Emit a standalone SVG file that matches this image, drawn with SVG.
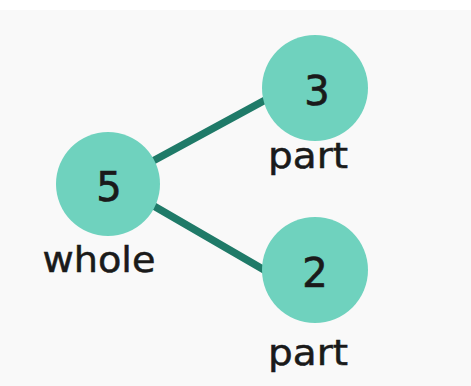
<svg xmlns="http://www.w3.org/2000/svg" width="471" height="386" viewBox="0 0 471 386">
<style>
.node{fill:#6fd2be;}
.num{font-family:"DejaVu Sans",sans-serif;font-size:40px;fill:#1a1a1a;stroke:#1a1a1a;stroke-width:0.7;text-anchor:middle;}
.lbl{font-family:"DejaVu Sans",sans-serif;font-size:35px;fill:#1a1a1a;stroke:#1a1a1a;stroke-width:0.5;text-anchor:middle;}
.edge{stroke:#1f7a68;stroke-width:7.5;stroke-linecap:round;fill:none;}
</style>
<rect width="471" height="386" fill="#ffffff"/>
<rect x="0" y="10" width="471" height="376" fill="#f9f9f9"/>
<g id="connectors">
<line class="edge" x1="140" y1="168" x2="280" y2="92"/>
<line class="edge" x1="140" y1="198" x2="285" y2="282"/>
</g>
<g id="node-whole">
<circle class="node" cx="108" cy="184" r="52"/>
<text class="num" x="109" y="201">5</text>
<text class="lbl" x="99" y="272" textLength="113" lengthAdjust="spacingAndGlyphs">whole</text>
</g>
<g id="node-part1">
<circle class="node" cx="315" cy="88" r="53"/>
<text class="num" x="317" y="105">3</text>
<text class="lbl" x="308" y="168" textLength="80" lengthAdjust="spacingAndGlyphs">part</text>
</g>
<g id="node-part2">
<circle class="node" cx="315" cy="270" r="53"/>
<text class="num" x="315" y="287">2</text>
<text class="lbl" x="308" y="365" textLength="80" lengthAdjust="spacingAndGlyphs">part</text>
</g>
</svg>
